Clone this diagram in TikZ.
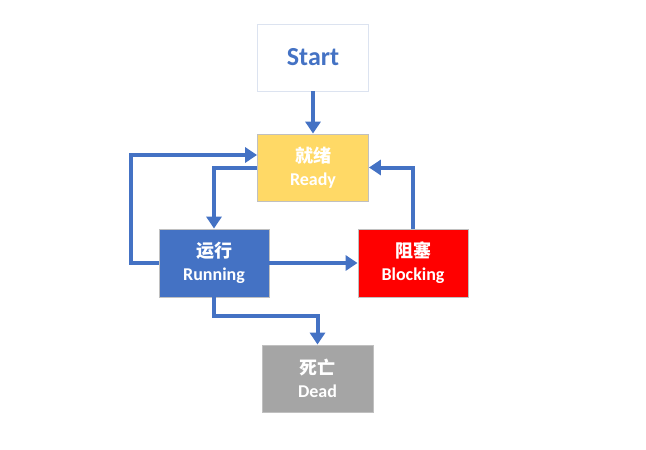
\documentclass[tikz,border=0pt]{standalone}
\usepackage{fontspec}
\setmainfont{Carlito}
\newfontfamily\cjk{Noto Sans CJK SC}
\usetikzlibrary{arrows.meta}
\definecolor{cblue}{HTML}{4472C4}
\definecolor{cyellow}{HTML}{FFD966}
\definecolor{cgrey}{HTML}{A5A5A5}
\definecolor{cborder}{HTML}{C0C0C0}
\definecolor{cstartb}{HTML}{DCE3F0}
\begin{document}
\begin{tikzpicture}[x=1pt,y=-1pt,
  statebox/.style={draw=cborder,line width=0.8pt,minimum width=111pt,minimum height=67pt,inner sep=0pt,
    text=white,align=center,font=\fontsize{18}{23}\selectfont\bfseries},
  arr/.style={draw=cblue,line width=4pt,-{Triangle[width=15pt,length=12pt]}}]
\useasboundingbox (0,0) rectangle (646,450);
\node[statebox,fill=white,draw=cstartb,text=cblue,font=\fontsize{26}{30}\selectfont\bfseries] (start) at (313,57.5) {Start};
\node[statebox,fill=cyellow] (ready) at (313,167.5) {{\cjk 就绪}\\Ready};
\node[statebox,fill=cblue,minimum width=110pt,minimum height=68pt] (run) at (214,263) {{\cjk 运行}\\Running};
\node[statebox,fill=red,minimum width=110pt,minimum height=68pt] (block) at (413,263) {{\cjk 阻塞}\\Blocking};
\node[statebox,fill=cgrey] (dead) at (317.5,378.5) {{\cjk 死亡}\\Dead};
\coordinate (loopL) at (131,155);
\coordinate (dmid) at (0,316);
\draw[arr] (start.south) -- (ready.north);
\draw[arr] (ready.west) -| (run.north);
\draw[arr] (run.west) -| (loopL) -- (ready.west |- loopL);
\draw[arr] (run.east) -- (block.west);
\draw[arr] (block.north) |- (ready.east);
\draw[arr] (run.south) -- (run.south |- dmid) -| (dead.north);
\end{tikzpicture}
\end{document}
